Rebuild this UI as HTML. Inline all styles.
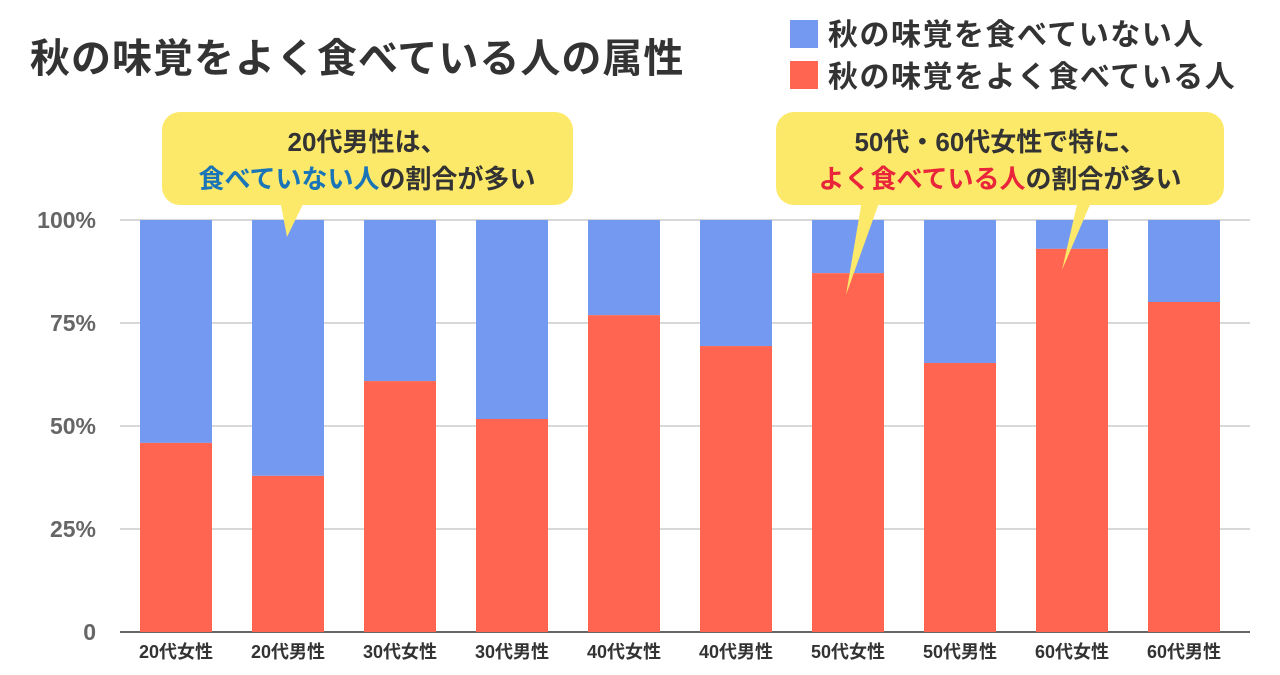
<!DOCTYPE html>
<html><head><meta charset="utf-8">
<style>
body{margin:0;background:#fff;width:1280px;height:670px;overflow:hidden;font-family:"Liberation Sans","Noto Sans CJK JP",sans-serif;}
svg text{font-family:"Liberation Sans","Noto Sans CJK JP",sans-serif;}
</style></head><body>
<svg id="chart" width="1280" height="670" xmlns="http://www.w3.org/2000/svg">
<text x="30" y="72" font-size="40" font-weight="bold" fill="#333" letter-spacing="1">秋の味覚をよく食べている人の属性</text>
<g>
<rect x="790" y="20" width="28" height="28" fill="#7499f0"/>
<text x="828" y="45" font-size="30" font-weight="bold" fill="#333" letter-spacing="1.5">秋の味覚を食べていない人</text>
<rect x="790" y="61" width="28" height="28" fill="#ff6550"/>
<text x="828" y="87" font-size="30" font-weight="bold" fill="#333" letter-spacing="1.5">秋の味覚をよく食べている人</text>
</g>
<g id="grid"></g>
<g id="bars"></g>
<g id="axis"></g>
<g>
<rect x="162" y="112" width="411" height="93" rx="18" fill="#fce96a"/>
<polygon points="280,200 305,200 287,237" fill="#fce96a"/>
<text x="367" y="151" font-size="26" font-weight="bold" fill="#333" text-anchor="middle">20代男性は、</text>
<text x="367" y="188" font-size="26" font-weight="bold" fill="#333" text-anchor="middle"><tspan fill="#1a75b8">食べていない人</tspan>の割合が多い</text>
</g>
<g>
<rect x="776" y="112" width="448" height="93" rx="18" fill="#fce96a"/>
<polygon points="862,200 880,200 846,295" fill="#fce96a"/>
<polygon points="1078,200 1092,200 1062,270" fill="#fce96a"/>
<text x="1000" y="151" font-size="26" font-weight="bold" fill="#333" text-anchor="middle">50代・60代女性で特に、</text>
<text x="1000" y="188" font-size="26" font-weight="bold" fill="#333" text-anchor="middle"><tspan fill="#e8253a">よく食べている人</tspan>の割合が多い</text>
</g>
</svg>
<script>
const categories=["20代女性","20代男性","30代女性","30代男性","40代女性","40代男性","50代女性","50代男性","60代女性","60代男性"];
const eatingValues=[45.9,37.9,60.9,51.7,76.9,69.4,87.1,65.3,93.0,80.1];
const tickValues=[0,25,50,75,100];
const tickLabels=["0","25%","50%","75%","100%"];
const NS="http://www.w3.org/2000/svg";
const x0=120,band=112,barW=72,yTop=220,yBot=632;
const y=v=>yBot-(yBot-yTop)*v/100;
const xc=i=>x0+band*i+band/2;
function mk(t,a,p){const e=document.createElementNS(NS,t);for(const k in a)e.setAttribute(k,a[k]);p.appendChild(e);return e;}
const grid=document.getElementById('grid'),bars=document.getElementById('bars'),axis=document.getElementById('axis');
tickValues.forEach((v,i)=>{
 const l=mk('line',{x1:x0,x2:1250,y1:y(v),y2:y(v),stroke:v===0?'#666':'#ccc','stroke-width':v===0?2:1.5},grid);
 
 
 const t=mk('text',{x:96,y:y(v)+8,'font-size':23,'font-weight':'bold',fill:'#666','text-anchor':'end'},axis);
 t.textContent=tickLabels[i];
 
 
});
categories.forEach((c,i)=>{
 const b=mk('rect',{x:xc(i)-barW/2,y:y(100),width:barW,height:y(eatingValues[i])-y(100),fill:'#7499f0'},bars);
 
 
 const r=mk('rect',{x:xc(i)-barW/2,y:y(eatingValues[i]),width:barW,height:yBot-y(eatingValues[i]),fill:'#ff6550'},bars);
 
 
 const t=mk('text',{x:xc(i),y:658,'font-size':18,'font-weight':'bold',fill:'#333','text-anchor':'middle'},axis);
 t.textContent=c;
 
 
});
</script>
</body></html>
